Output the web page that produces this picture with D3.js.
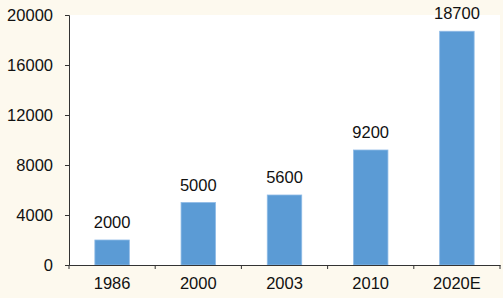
<!DOCTYPE html>
<html><head><meta charset="utf-8">
<script src="https://cdn.jsdelivr.net/npm/d3@7"></script>
<style>
html,body{margin:0;padding:0;background:#fdf9ee;}
svg{display:block;}
text{font-family:"Liberation Sans",Arial,sans-serif;fill:#111;}
</style></head><body>
<svg id="c" width="503" height="298"></svg>
<script>
const categories = ["1986","2000","2003","2010","2020E"];
const values = [2000,5000,5600,9200,18700];
const yTicks = [0,4000,8000,12000,16000,20000];

const svg = d3.select("#c");
const W = 503, H = 298;
svg.append("rect").attr("width",W).attr("height",H).attr("fill","#fdf9ee");
const m = {l:69, r:3, t:15, b:33};
const x = d3.scaleBand().domain(categories).range([m.l, W-m.r]).paddingInner(0.6).paddingOuter(0.3);
const y = d3.scaleLinear().domain([0,20000]).range([H-m.b, m.t]);

svg.append("rect").attr("x",m.l).attr("y",m.t).attr("width",W-m.r-m.l).attr("height",H-m.b-m.t).attr("fill","#ffffff");

svg.selectAll(".bar").data(values).enter().append("rect")
  .attr("x",(d,i)=>x(categories[i])).attr("width",x.bandwidth())
  .attr("y",d=>y(d)).attr("height",d=>y(0)-y(d))
  .attr("fill","#5b9bd5").attr("stroke","#8fbbe6").attr("stroke-width",0.8);

svg.selectAll(".lbl").data(values).enter().append("text")
  .attr("x",(d,i)=>x(categories[i])+x.bandwidth()/2).attr("y",d=>y(d)-12)
  .attr("text-anchor","middle").attr("font-size",16.5).text(d=>d);

// y axis
const ya = svg.append("g").attr("transform",`translate(${m.l},0)`)
  .call(d3.axisLeft(y).tickValues(yTicks).tickSize(4).tickPadding(12).tickFormat(d3.format("d")));
ya.selectAll("text").attr("font-size",16.5).attr("fill","#111");
ya.selectAll("line,path").attr("stroke","#333");

// x axis with boundary ticks
const xa = svg.append("g").attr("transform",`translate(0,${y(0)})`)
  .call(d3.axisBottom(x).tickSize(0).tickPadding(12));
xa.select(".domain").attr("stroke","#333");
xa.selectAll("text").attr("font-size",16.5).attr("fill","#111");
const step = x.step();
const bounds = categories.map((c,i)=>m.l + (i+1)*(W-m.r-m.l)/categories.length);
bounds.unshift(m.l);
xa.selectAll(".bt").data(bounds).enter().append("line")
  .attr("x1",d=>d).attr("x2",d=>d).attr("y1",0).attr("y2",4).attr("stroke","#333");
</script></body></html>
